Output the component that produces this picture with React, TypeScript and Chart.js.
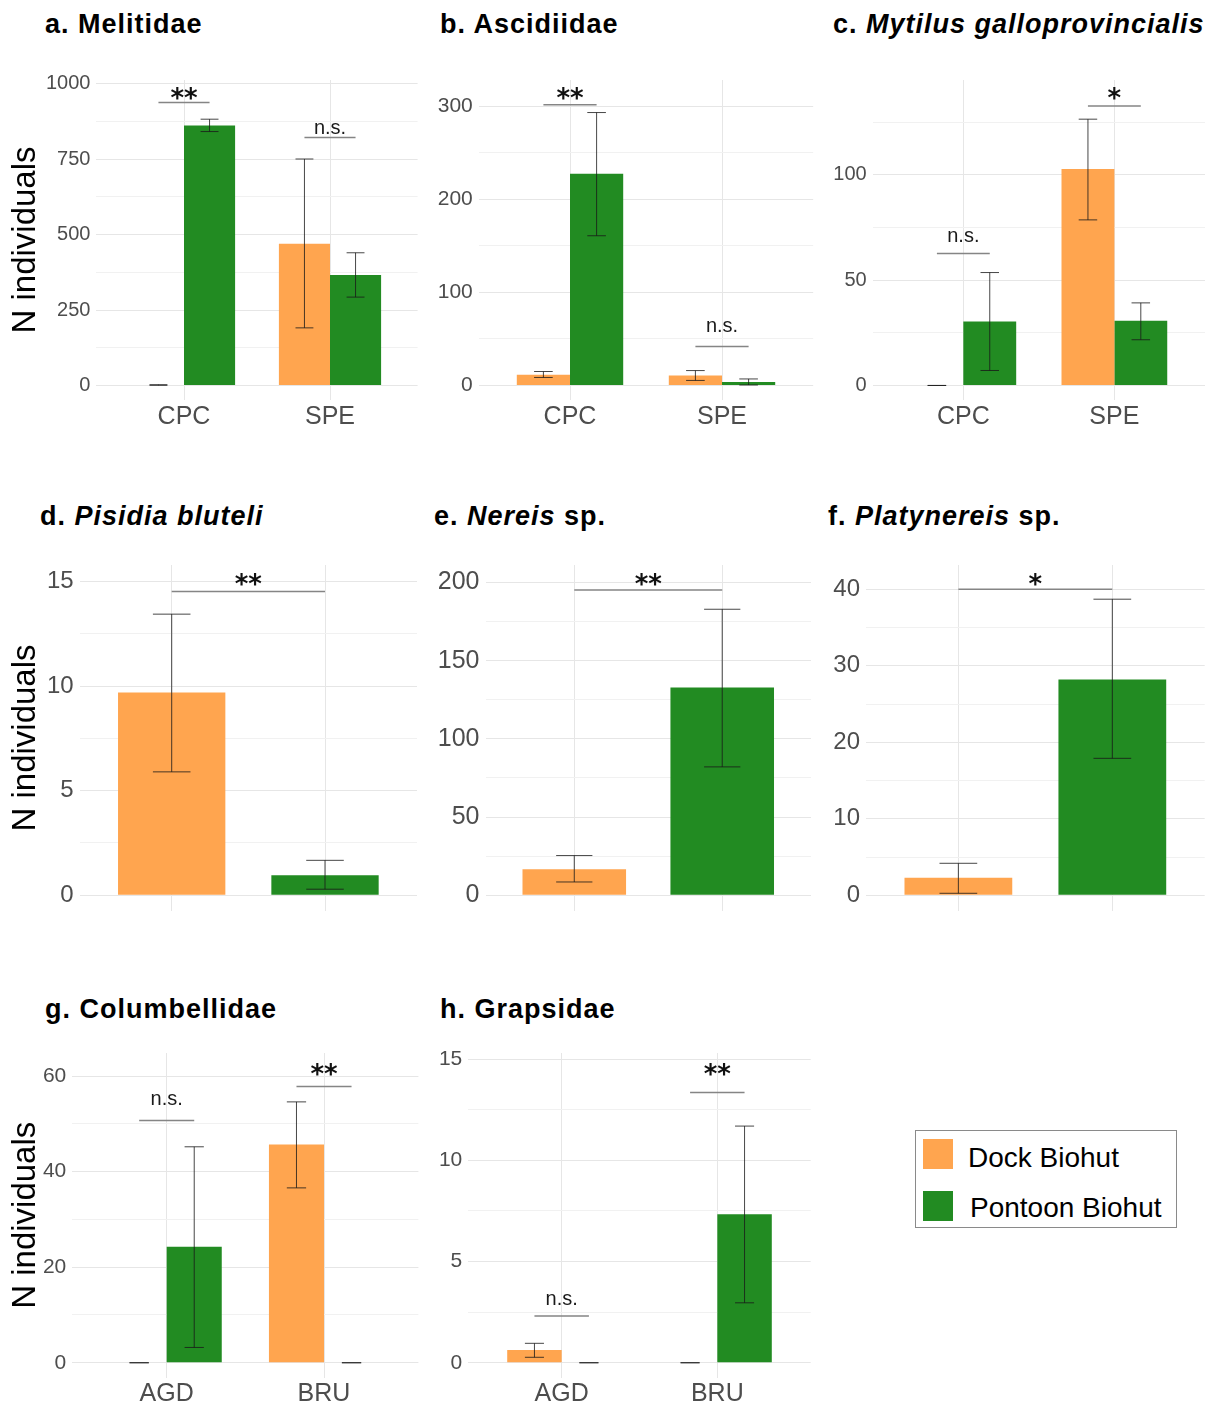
import React, { useEffect, useRef } from "react";
import { Chart, registerables } from "chart.js";

Chart.register(...registerables);
Chart.defaults.font.family = '"Liberation Sans", Arial, sans-serif';

const DOCK_COLOR = "#FFA54F";
const PONTOON_COLOR = "#228B22";
const seriesNames = ["Dock Biohut", "Pontoon Biohut"];

const sitesCS = ["CPC", "SPE"];
const sitesAB = ["AGD", "BRU"];

// a. Melitidae
const melitidaeDock = [1.5, 470];
const melitidaeDockLow = [0.5, 191];
const melitidaeDockHigh = [2.5, 751];
const melitidaePontoon = [862, 366];
const melitidaePontoonLow = [842, 293];
const melitidaePontoonHigh = [883, 440];
const melitidaeSig = ["**", "n.s."];
const melitidaeSigY = [938, 822];
const melitidaeSigLabelY = [974, 849];
const melitidaeTicks = [0, 250, 500, 750, 1000];
const melitidaeMinor = [125, 375, 625, 875];

// b. Ascidiidae
const ascidiidaeDock = [11.5, 10.8];
const ascidiidaeDockLow = [8.6, 5.4];
const ascidiidaeDockHigh = [15, 16];
const ascidiidaePontoon = [227.6, 3.6];
const ascidiidaePontoonLow = [161, 0.5];
const ascidiidaePontoonHigh = [293.5, 7];
const ascidiidaeSig = ["**", "n.s."];
const ascidiidaeSigY = [302, 42];
const ascidiidaeSigLabelY = [316, 63.4];
const ascidiidaeTicks = [0, 100, 200, 300];
const ascidiidaeMinor = [50, 150, 250];

// c. Mytilus galloprovincialis
const mytilusDock = [0, 102.7];
const mytilusDockLow = [0, 78.6];
const mytilusDockHigh = [0, 126.4];
const mytilusPontoon = [30.4, 30.7];
const mytilusPontoonLow = [7.1, 21.7];
const mytilusPontoonHigh = [53.6, 39.2];
const mytilusSig = ["n.s.", "*"];
const mytilusSigY = [62.6, 132.6];
const mytilusSigLabelY = [70.6, 139.2];
const mytilusTicks = [0, 50, 100];
const mytilusMinor = [25, 75, 125];

// d. Pisidia bluteli (Dock, Pontoon)
const pisidiaMean = [9.69, 0.96];
const pisidiaLow = [5.9, 0.29];
const pisidiaHigh = [13.44, 1.67];
const pisidiaSig = ["**"];
const pisidiaSigY = [14.52];
const pisidiaSigLabelY = [15.19];
const pisidiaTicks = [0, 5, 10, 15];
const pisidiaMinor = [2.5, 7.5, 12.5];

// e. Nereis sp.
const nereisMean = [16.6, 132.8];
const nereisLow = [8.5, 82.1];
const nereisHigh = [25.4, 182.9];
const nereisSig = ["**"];
const nereisSigY = [195.2];
const nereisSigLabelY = [203];
const nereisTicks = [0, 50, 100, 150, 200];
const nereisMinor = [25, 75, 125, 175];

// f. Platynereis sp.
const platynereisMean = [2.3, 28.2];
const platynereisLow = [0.26, 17.9];
const platynereisHigh = [4.18, 38.7];
const platynereisSig = ["*"];
const platynereisSigY = [40.0];
const platynereisSigLabelY = [41.5];
const platynereisTicks = [0, 10, 20, 30, 40];
const platynereisMinor = [5, 15, 25, 35];

// g. Columbellidae
const columbDock = [0, 45.7];
const columbDockLow = [0, 36.6];
const columbDockHigh = [0, 54.6];
const columbPontoon = [24.3, 0];
const columbPontoonLow = [3.2, 0];
const columbPontoonHigh = [45.2, 0];
const columbSig = ["n.s.", "**"];
const columbSigY = [50.7, 57.8];
const columbSigLabelY = [55, 61.6];
const columbTicks = [0, 20, 40, 60];
const columbMinor = [10, 30, 50];

// h. Grapsidae
const grapsDock = [0.63, 0];
const grapsDockLow = [0.27, 0];
const grapsDockHigh = [0.96, 0];
const grapsPontoon = [0, 7.33];
const grapsPontoonLow = [0, 2.96];
const grapsPontoonHigh = [0, 11.69];
const grapsSig = ["n.s.", "**"];
const grapsSigY = [2.31, 13.35];
const grapsSigLabelY = [3.1, 14.55];
const grapsTicks = [0, 5, 10, 15];
const grapsMinor = [2.5, 7.5, 12.5];

type Box = { L: number; R: number; T: number; B: number; CL: number; xH: number };
type Panel = {
  id: string;
  title: [string, boolean][];
  titlePos: [number, number];
  cats: string[] | null;
  grouped: boolean;
  values: number[][];
  low: number[][];
  high: number[][];
  sig: string[];
  sigY: number[];
  sigLabelY: number[];
  ticks: number[];
  minor: number[];
  yMax: number;
  tickSize: number;
  yTitle: boolean;
  box: Box;
};

const panels: Panel[] = [
  {
    id: "a", title: [["a. Melitidae", false]], titlePos: [45, 8],
    cats: sitesCS, grouped: true,
    values: [melitidaeDock, melitidaePontoon],
    low: [melitidaeDockLow, melitidaePontoonLow],
    high: [melitidaeDockHigh, melitidaePontoonHigh],
    sig: melitidaeSig, sigY: melitidaeSigY, sigLabelY: melitidaeSigLabelY,
    ticks: melitidaeTicks, minor: melitidaeMinor, yMax: 1013, tickSize: 20, yTitle: true,
    box: { L: 96.4, R: 417.6, T: 80, B: 400, CL: 0, xH: 36 },
  },
  {
    id: "b", title: [["b. Ascidiidae", false]], titlePos: [440, 8],
    cats: sitesCS, grouped: true,
    values: [ascidiidaeDock, ascidiidaePontoon],
    low: [ascidiidaeDockLow, ascidiidaePontoonLow],
    high: [ascidiidaeDockHigh, ascidiidaePontoonHigh],
    sig: ascidiidaeSig, sigY: ascidiidaeSigY, sigLabelY: ascidiidaeSigLabelY,
    ticks: ascidiidaeTicks, minor: ascidiidaeMinor, yMax: 328.5, tickSize: 21, yTitle: false,
    box: { L: 478.8, R: 813.2, T: 80, B: 400, CL: 425, xH: 36 },
  },
  {
    id: "c", title: [["c. ", false], ["Mytilus galloprovincialis", true]], titlePos: [833, 8],
    cats: sitesCS, grouped: true,
    values: [mytilusDock, mytilusPontoon],
    low: [mytilusDockLow, mytilusPontoonLow],
    high: [mytilusDockHigh, mytilusPontoonHigh],
    sig: mytilusSig, sigY: mytilusSigY, sigLabelY: mytilusSigLabelY,
    ticks: mytilusTicks, minor: mytilusMinor, yMax: 145, tickSize: 20, yTitle: false,
    box: { L: 872.7, R: 1205, T: 80, B: 400, CL: 815, xH: 36 },
  },
  {
    id: "d", title: [["d. ", false], ["Pisidia bluteli", true]], titlePos: [40, 500],
    cats: null, grouped: false,
    values: [pisidiaMean], low: [pisidiaLow], high: [pisidiaHigh],
    sig: pisidiaSig, sigY: pisidiaSigY, sigLabelY: pisidiaSigLabelY,
    ticks: pisidiaTicks, minor: pisidiaMinor, yMax: 15.79, tickSize: 24, yTitle: true,
    box: { L: 79.7, R: 417, T: 565, B: 911, CL: 0, xH: 8 },
  },
  {
    id: "e", title: [["e. ", false], ["Nereis", true], [" sp.", false]], titlePos: [434, 500],
    cats: null, grouped: false,
    values: [nereisMean], low: [nereisLow], high: [nereisHigh],
    sig: nereisSig, sigY: nereisSigY, sigLabelY: nereisSigLabelY,
    ticks: nereisTicks, minor: nereisMinor, yMax: 211.2, tickSize: 25, yTitle: false,
    box: { L: 485.5, R: 811, T: 565, B: 911, CL: 425, xH: 8 },
  },
  {
    id: "f", title: [["f. ", false], ["Platynereis", true], [" sp.", false]], titlePos: [828, 500],
    cats: null, grouped: false,
    values: [platynereisMean], low: [platynereisLow], high: [platynereisHigh],
    sig: platynereisSig, sigY: platynereisSigY, sigLabelY: platynereisSigLabelY,
    ticks: platynereisTicks, minor: platynereisMinor, yMax: 43.17, tickSize: 24, yTitle: false,
    box: { L: 866, R: 1204.7, T: 565, B: 911, CL: 815, xH: 8 },
  },
  {
    id: "g", title: [["g. Columbellidae", false]], titlePos: [45, 993],
    cats: sitesAB, grouped: true,
    values: [columbDock, columbPontoon],
    low: [columbDockLow, columbPontoonLow],
    high: [columbDockHigh, columbPontoonHigh],
    sig: columbSig, sigY: columbSigY, sigLabelY: columbSigLabelY,
    ticks: columbTicks, minor: columbMinor, yMax: 64.83, tickSize: 21, yTitle: true,
    box: { L: 72.3, R: 418.4, T: 1053, B: 1377.5, CL: 0, xH: 29 },
  },
  {
    id: "h", title: [["h. Grapsidae", false]], titlePos: [440, 993],
    cats: sitesAB, grouped: true,
    values: [grapsDock, grapsPontoon],
    low: [grapsDockLow, grapsPontoonLow],
    high: [grapsDockHigh, grapsPontoonHigh],
    sig: grapsSig, sigY: grapsSigY, sigLabelY: grapsSigLabelY,
    ticks: grapsTicks, minor: grapsMinor, yMax: 15.3, tickSize: 21, yTitle: false,
    box: { L: 468.3, R: 810.7, T: 1053, B: 1377.5, CL: 425, xH: 29 },
  },
];

const annotPlugin = {
  id: "annot",
  afterDatasetsDraw(chart: any, _args: any, opts: any) {
    const ctx = chart.ctx;
    const ys = chart.scales.y;
    ctx.save();
    const centers: number[] = [];
    chart.data.datasets.forEach((_ds: any, di: number) => {
      const meta = chart.getDatasetMeta(di);
      meta.data.forEach((bar: any, j: number) => {
        centers.push(bar.x);
        const lo = opts.low[di][j];
        const hi = opts.high[di][j];
        const x = bar.x;
        const hw = (bar.width * 0.35) / 2;
        const y1 = ys.getPixelForValue(lo);
        const y2 = ys.getPixelForValue(hi);
        ctx.strokeStyle = "rgba(25,25,25,0.8)";
        ctx.lineWidth = 1;
        ctx.beginPath();
        ctx.moveTo(x, y1);
        ctx.lineTo(x, y2);
        ctx.moveTo(x - hw, y1);
        ctx.lineTo(x + hw, y1);
        ctx.moveTo(x - hw, y2);
        ctx.lineTo(x + hw, y2);
        ctx.stroke();
      });
    });
    centers.sort((a, b) => a - b);
    opts.sig.forEach((label: string, k: number) => {
      const xa = centers[2 * k];
      const xb = centers[2 * k + 1];
      const yl = ys.getPixelForValue(opts.sigY[k]);
      ctx.strokeStyle = "#858585";
      ctx.lineWidth = 1.5;
      ctx.beginPath();
      ctx.moveTo(xa, yl);
      ctx.lineTo(xb, yl);
      ctx.stroke();
      const yc = ys.getPixelForValue(opts.sigLabelY[k]);
      ctx.textAlign = "center";
      ctx.textBaseline = "alphabetic";
      if (label.indexOf("*") >= 0) {
        ctx.font = 'bold 26px "DejaVu Sans"';
        ctx.fillStyle = "#111";
        ctx.fillText(label, (xa + xb) / 2, yc + 15);
      } else {
        ctx.font = '20px "Liberation Sans"';
        ctx.fillStyle = "#1a1a1a";
        ctx.fillText(label, (xa + xb) / 2, yc + 5);
      }
    });
    ctx.restore();
  },
};

function buildConfig(p: Panel, W: number, H: number, CT: number, CR: number) {
  const { L, R, T, B, CL } = p.box;
  const colors = [DOCK_COLOR, PONTOON_COLOR];
  const datasets = p.grouped
    ? p.values.map((vals, si) => ({
        label: seriesNames[si],
        data: vals.map((v, i) => ({ x: i + 1, y: v })),
        backgroundColor: colors[si],
        borderWidth: 0,
        categoryPercentage: 0.7,
        barPercentage: 1,
      }))
    : [
        {
          label: "Mean",
          data: p.values[0].map((v, i) => ({ x: i + 1, y: v })),
          backgroundColor: colors,
          borderWidth: 0,
          categoryPercentage: 0.7,
          barPercentage: 1,
        },
      ];
  const majorSet = new Set(p.ticks);
  const allTicks = [...p.ticks, ...p.minor].sort((a, b) => a - b);
  const yMin = -p.yMax / 21;
  return {
    type: "bar" as const,
    data: { datasets },
    plugins: [annotPlugin],
    options: {
      responsive: false,
      animation: false,
      layout: { padding: { left: 0, top: T - CT, right: CR - R, bottom: 0 } },
      plugins: {
        legend: { display: false },
        tooltip: { enabled: false },
        annot: { low: p.low, high: p.high, sig: p.sig, sigY: p.sigY, sigLabelY: p.sigLabelY },
      },
      scales: {
        x: {
          type: "linear",
          min: 0.4,
          max: 2.6,
          offset: false,
          afterBuildTicks: (axis: any) => {
            axis.ticks = [{ value: 1 }, { value: 2 }];
          },
          afterFit: (axis: any) => {
            axis.height = H - (B - CT);
            axis.paddingLeft = 0;
            axis.paddingRight = 0;
          },
          grid: { color: "#E6E6E6", lineWidth: 1, drawTicks: false, offset: false },
          border: { display: false },
          ticks: {
            autoSkip: false,
            maxRotation: 0,
            padding: 2,
            color: "#4D4D4D",
            font: { size: 25 },
            callback: (v: any) => (p.cats ? p.cats[Math.round(v) - 1] ?? "" : ""),
          },
        },
        y: {
          type: "linear",
          min: yMin,
          max: p.yMax,
          afterBuildTicks: (axis: any) => {
            axis.ticks = allTicks.map((v) => ({ value: v }));
          },
          afterFit: (axis: any) => {
            axis.width = L - CL;
            axis.paddingTop = 0;
            axis.paddingBottom = 0;
          },
          grid: {
            color: (c: any) => (c.tick && majorSet.has(c.tick.value) ? "#E6E6E6" : "#F1F1F1"),
            lineWidth: 1,
            drawTicks: false,
          },
          border: { display: false },
          ticks: {
            autoSkip: false,
            padding: 6,
            color: "#4D4D4D",
            font: { size: p.tickSize },
            callback: (v: any) => (majorSet.has(v) ? String(v) : ""),
          },
          title: {
            display: p.yTitle,
            text: "N individuals",
            color: "#000",
            font: { size: 33 },
            padding: { top: 6, bottom: 0 },
          },
        },
      },
    },
  };
}

function PanelChart({ p }: { p: Panel }) {
  const ref = useRef<HTMLCanvasElement | null>(null);
  const { R, T, B, CL, xH } = p.box;
  const CT = Math.floor(T - 16);
  const CR = Math.ceil(R + 2);
  const CB = Math.ceil(B + xH);
  const W = CR - CL;
  const H = CB - CT;
  useEffect(() => {
    if (!ref.current) return;
    const chart = new Chart(ref.current, buildConfig(p, W, H, CT, CR) as any);
    return () => chart.destroy();
  }, []);
  return (
    <canvas
      ref={ref}
      width={W}
      height={H}
      style={{ position: "absolute", left: CL, top: CT, width: W, height: H }}
    />
  );
}

const titleStyle: React.CSSProperties = {
  position: "absolute",
  font: 'bold 27px "Liberation Sans", Arial, sans-serif',
  lineHeight: "32px",
  letterSpacing: "1px",
  whiteSpace: "nowrap",
  color: "#000",
};

export default function App() {
  return (
    <div style={{ position: "absolute", left: 0, top: 0, width: 1216, height: 1407, background: "#fff", overflow: "hidden" }}>
      {panels.map((p) => (
        <React.Fragment key={p.id}>
          <div style={{ ...titleStyle, left: p.titlePos[0], top: p.titlePos[1] }}>
            {p.title.map(([t, it], i) => (
              <span key={i} style={{ fontStyle: it ? "italic" : "normal" }}>{t}</span>
            ))}
          </div>
          <PanelChart p={p} />
        </React.Fragment>
      ))}
      <div
        style={{
          position: "absolute",
          left: 915,
          top: 1130,
          width: 260,
          height: 96,
          border: "1px solid #8a8a8a",
          font: '28px "Liberation Sans", Arial, sans-serif',
          color: "#000",
        }}
      >
        <div style={{ position: "absolute", left: 7, top: 8, width: 30, height: 30, background: DOCK_COLOR }} />
        <div style={{ position: "absolute", left: 52, top: 11, lineHeight: "32px", whiteSpace: "nowrap" }}>{seriesNames[0]}</div>
        <div style={{ position: "absolute", left: 7, top: 60, width: 30, height: 30, background: PONTOON_COLOR }} />
        <div style={{ position: "absolute", left: 54, top: 61, lineHeight: "32px", whiteSpace: "nowrap" }}>{seriesNames[1]}</div>
      </div>
    </div>
  );
}
